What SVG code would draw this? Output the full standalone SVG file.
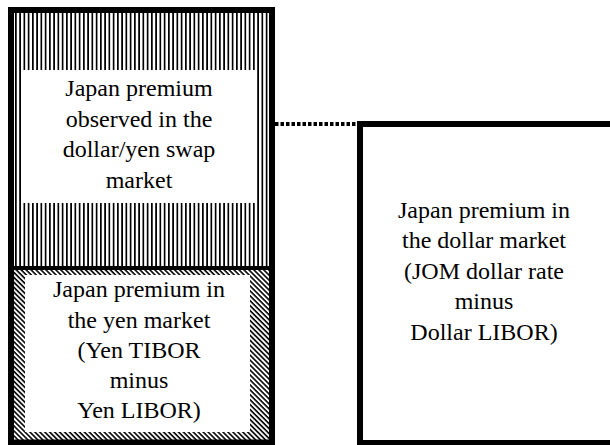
<svg xmlns="http://www.w3.org/2000/svg" width="610" height="445" viewBox="0 0 610 445">
  <defs>
    <pattern id="vstripes" patternUnits="userSpaceOnUse" x="15" y="0" width="4.25" height="10">
      <rect x="0" y="0" width="2" height="10" fill="#000" shape-rendering="crispEdges"/>
    </pattern>
    <pattern id="hatch" patternUnits="userSpaceOnUse" width="3.5" height="3.5" patternTransform="rotate(45)">
      <rect x="0" y="0" width="3.5" height="1.6" fill="#000"/>
    </pattern>
  </defs>
  <style>
    .frame { fill: none; stroke: #000; stroke-width: 6; }
    .lbl { font-family: "Liberation Serif", "Times New Roman", serif; font-size: 24px; fill: #000; text-anchor: middle; }
    .conn { stroke: #000; stroke-width: 4; stroke-dasharray: 3.5 2; fill: none; }
  </style>
  <rect width="610" height="445" fill="#fff"/>

  <g id="swap-market">
    <rect x="14" y="13" width="255" height="253" fill="url(#vstripes)"/>
    <rect x="23" y="70" width="233" height="133" fill="#fff"/>
    <text class="lbl" x="139" y="96">Japan premium</text>
    <text class="lbl" x="139" y="127">observed in the</text>
    <text class="lbl" x="139" y="157">dollar/yen swap</text>
    <text class="lbl" x="139" y="188">market</text>
  </g>

  <g id="yen-market">
    <rect x="14" y="270" width="255" height="171" fill="url(#hatch)"/>
    <rect x="25" y="275" width="225" height="157" fill="#fff"/>
    <text class="lbl" x="139" y="297">Japan premium in</text>
    <text class="lbl" x="139" y="328">the yen market</text>
    <text class="lbl" x="139" y="358">(Yen TIBOR</text>
    <text class="lbl" x="139" y="388">minus</text>
    <text class="lbl" x="139" y="418">Yen LIBOR)</text>
  </g>

  <g id="left-frame">
    <rect class="frame" x="11" y="10" width="261" height="432.5"/>
    <line x1="11" y1="268" x2="272" y2="268" stroke="#000" stroke-width="4"/>
  </g>

  <g id="dollar-market">
    <rect class="frame" x="360" y="124" width="300" height="319" fill="#fff"/>
    <text class="lbl" x="484" y="218">Japan premium in</text>
    <text class="lbl" x="484" y="248">the dollar market</text>
    <text class="lbl" x="484" y="279">(JOM dollar rate</text>
    <text class="lbl" x="484" y="309">minus</text>
    <text class="lbl" x="484" y="340">Dollar LIBOR)</text>
  </g>

  <g id="connectors">
    <line class="conn" x1="275" y1="124" x2="357" y2="124"/>
  </g>
</svg>
